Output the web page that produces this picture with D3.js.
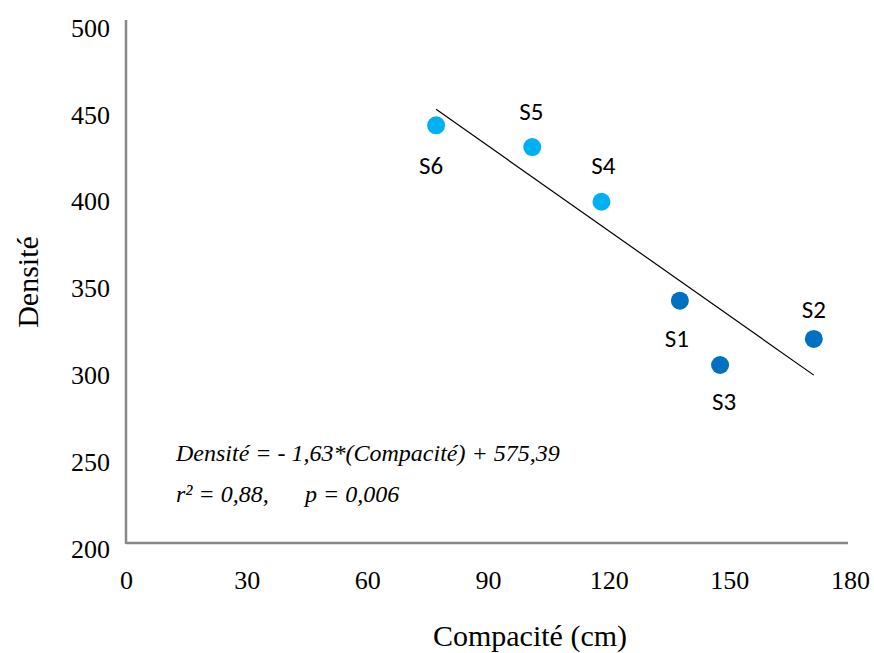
<!DOCTYPE html>
<html>
<head>
<meta charset="utf-8">
<script src="https://cdn.jsdelivr.net/npm/d3@7"></script>
<style>
  body { margin: 0; background: #fff; }
</style>
</head>
<body>
<div id="chart"></div>
<script>
// Data
const sites = ["S1", "S2", "S3", "S4", "S5", "S6"];
const compacite = [137.7, 171.0, 147.7, 118.2, 101.0, 77.1];
const densite = [339.5, 317.5, 302.5, 396.5, 428, 440.5];
const groups = ["dark", "dark", "dark", "light", "light", "light"];
const xTicks = [0, 30, 60, 90, 120, 150, 180];
const yTicks = [200, 250, 300, 350, 400, 450, 500];
const slope = -1.63, intercept = 575.39;

const width = 874, height = 653;
const svg = d3.select("#chart").append("svg")
    .attr("width", width)
    .attr("height", height);

const x = d3.scaleLinear().domain([0, 180]).range([126, 850]);
const y = d3.scaleLinear().domain([200, 500]).range([543, 22]);

const colors = { dark: "#0070C0", light: "#00B0F0" };
// label offsets relative to point (dx, dy of text centre)
const labelPos = {
    S1: [-3, 38], S2: [0, -29], S3: [4, 37],
    S4: [2, -36], S5: [-1, -36], S6: [-5, 40]
};
const serif = "'Liberation Serif', 'Times New Roman', serif";

// axes (no tick marks, grey lines)
const xAxis = svg.append("g")
    .attr("transform", `translate(0,${y(200)})`)
    .call(d3.axisBottom(x).tickValues(xTicks).tickSize(0).tickPadding(28));
const yAxis = svg.append("g")
    .attr("transform", `translate(${x(0)},0)`)
    .call(d3.axisLeft(y).tickValues(yTicks).tickSize(0).tickPadding(16));

[xAxis, yAxis].forEach(g => {
    g.select(".domain").attr("stroke", "#888").attr("stroke-width", 2.5);
    g.selectAll("text")
        .style("font-family", serif)
        .style("font-size", "26px")
        .attr("fill", "#000");
});
yAxis.selectAll("text").attr("dy", "0.55em");
yAxis.select(".domain").attr("d", `M0,${y(200) + 1}V20`);
xAxis.select(".domain").attr("d", `M${x(0)},0H${x(179.5)}`);

// regression line
const xs = d3.extent(compacite);
svg.append("line")
    .attr("x1", x(xs[0])).attr("y1", y(slope * xs[0] + intercept))
    .attr("x2", x(xs[1])).attr("y2", y(slope * xs[1] + intercept))
    .attr("stroke", "#000").attr("stroke-width", 1.2);

// points
const pts = sites.map((s, i) => ({ s, cx: compacite[i], cy: densite[i], g: groups[i] }));
svg.selectAll(".pt").data(pts).enter()
    .append("circle")
    .attr("class", "pt")
    .attr("cx", d => x(d.cx))
    .attr("cy", d => y(d.cy))
    .attr("r", 9)
    .attr("fill", d => colors[d.g]);

svg.selectAll(".lbl").data(pts).enter()
    .append("text")
    .attr("class", "lbl")
    .attr("x", d => x(d.cx) + labelPos[d.s][0])
    .attr("y", d => y(d.cy) + labelPos[d.s][1])
    .attr("text-anchor", "middle")
    .attr("dominant-baseline", "central")
    .style("font-family", "Carlito, 'Open Sans', 'Noto Sans', sans-serif")
    .style("font-size", "25px")
    .text(d => d.s);

// equation text
const eq = svg.append("g")
    .style("font-family", serif)
    .style("font-style", "italic")
    .style("font-size", "24px");
eq.append("text").attr("x", 176).attr("y", 461)
    .text("Densité = - 1,63*(Compacité) + 575,39");
eq.append("text").attr("x", 176).attr("y", 502)
    .text("r² = 0,88,");
eq.append("text").attr("x", 305).attr("y", 502)
    .text("p = 0,006");

// axis titles
svg.append("text")
    .attr("x", 530).attr("y", 646)
    .attr("text-anchor", "middle")
    .style("font-family", serif)
    .style("font-size", "30px")
    .text("Compacité (cm)");
svg.append("text")
    .attr("transform", "translate(38,282) rotate(-90)")
    .attr("text-anchor", "middle")
    .style("font-family", serif)
    .style("font-size", "30px")
    .text("Densité");
</script>
</body>
</html>
